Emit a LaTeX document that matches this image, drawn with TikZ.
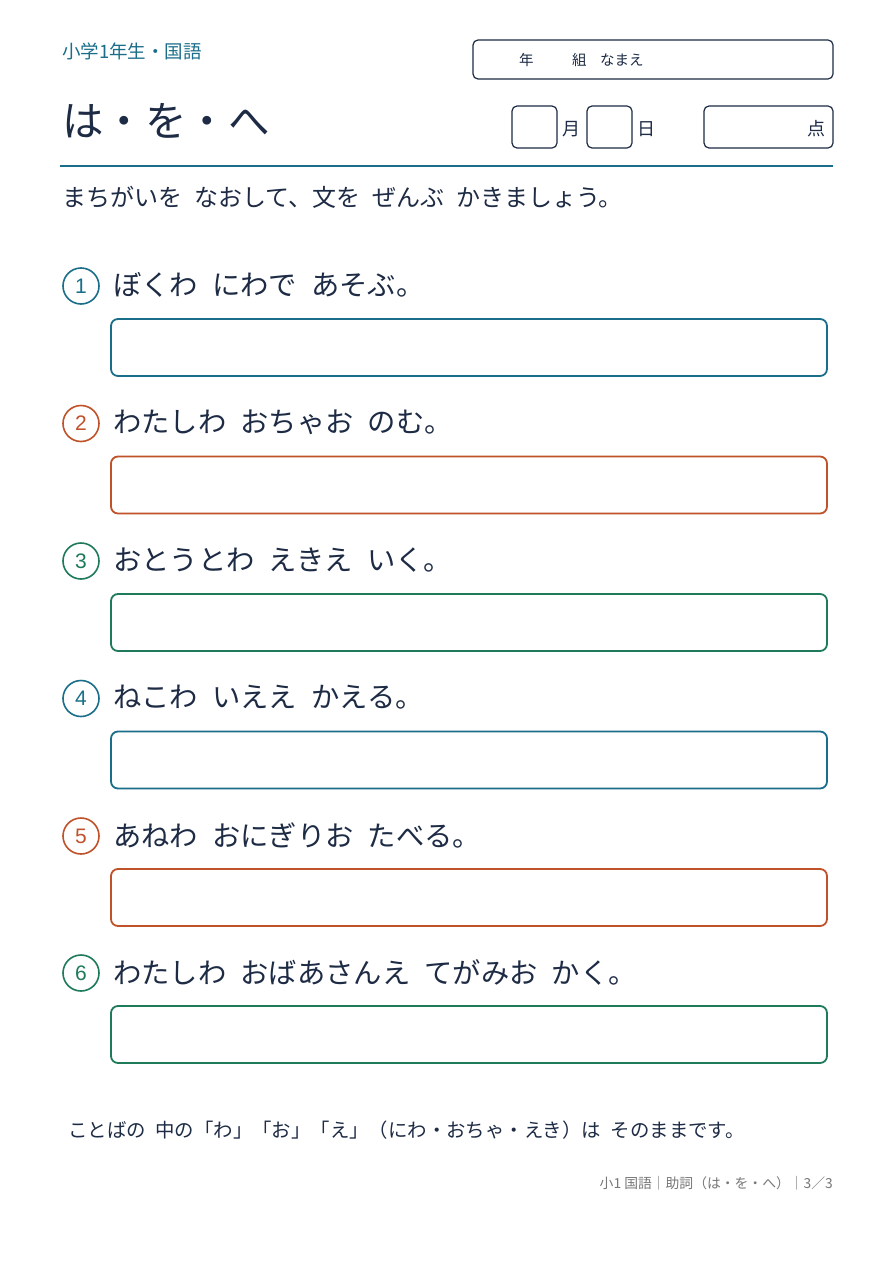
\documentclass[tikz,border=0pt]{standalone}
\usepackage{fontspec}
\setmainfont{Noto Sans CJK JP}
\newfontfamily\digf{Liberation Sans}
\newcommand{\gap}{\hspace{0.5em}}
\definecolor{ink}{HTML}{1D2B45}
\definecolor{cteal}{HTML}{1A6E8A}
\definecolor{corange}{HTML}{C0522A}
\definecolor{cgreen}{HTML}{1F7A5A}
\definecolor{cgray}{HTML}{777777}
\begin{document}
\begin{tikzpicture}[x=1pt,y=-1pt,
  t/.style={anchor=west,inner sep=0,text=ink},
  num/.style={circle,draw=#1,line width=1.6pt,minimum size=36pt,inner sep=0,text=#1,font=\digf\fontsize{21}{21}\selectfont},
  abox/.style={draw=#1,line width=1.8pt,rounded corners=7pt},
  hbox/.style={draw=ink,line width=1.2pt,rounded corners=5pt}]
\useasboundingbox[fill=white] (0,0) rectangle (893,1263);
\node[t,text=cteal,font=\fontsize{18.5}{18.5}\selectfont] (grade) at (62,51) {小学1年生・国語};
\draw[hbox] (473,40) rectangle (833,79);
\node[t,font=\fontsize{14.5}{14.5}\selectfont] (nen) at (519,60) {年};
\node[t,font=\fontsize{14.5}{14.5}\selectfont] (kumi) at (572,60) {組};
\node[t,font=\fontsize{14.5}{14.5}\selectfont] (namae) at (600,60) {なまえ};
\node[t,font=\fontsize{41.5}{41.5}\selectfont] (title) at (62,121) {は・を・へ};
\draw[hbox] (512,106) rectangle (557,148);
\node[t,font=\fontsize{18}{18}\selectfont] (tsuki) at (562,129) {月};
\draw[hbox] (587,106) rectangle (632,148);
\node[t,font=\fontsize{18}{18}\selectfont] (hi) at (637,129) {日};
\draw[hbox] (704,106) rectangle (833,148);
\node[t,font=\fontsize{18}{18}\selectfont] (ten) at (807,129) {点};
\draw[cteal,line width=1.8pt] (60,166) -- (833,166);
\node[t,font=\fontsize{24}{24}\selectfont] (inst) at (62,197) {まちがいを\gap なおして、文を\gap ぜんぶ\gap かきましょう。};
\foreach \i/\y/\c/\s in {1/0/cteal/{ぼくわ\gap にわで\gap あそぶ。},
  2/137.5/corange/{わたしわ\gap おちゃお\gap のむ。},
  3/275/cgreen/{おとうとわ\gap えきえ\gap いく。},
  4/412.5/cteal/{ねこわ\gap いええ\gap かえる。},
  5/550/corange/{あねわ\gap おにぎりお\gap たべる。},
  6/687/cgreen/{わたしわ\gap おばあさんえ\gap てがみお\gap かく。}}{
  \node[num=\c] (n\i) at (81,286+\y) {\i};
  \node[t,font=\fontsize{28.3}{28.3}\selectfont] (q\i) at (113,285+\y) {\s};
  \draw[abox=\c] (111,319+\y) rectangle (827,376+\y);
}
\node[t,font=\fontsize{19.4}{19.4}\selectfont] (note) at (68,1130) {ことばの\gap 中の「わ」「お」「え」（にわ・おちゃ・えき）は\gap そのままです。};
\node[anchor=east,inner sep=0,text=cgray,font=\fontsize{13.8}{13.8}\selectfont] (foot) at (833,1183) {小1 国語｜助詞（は・を・へ）｜3／3};
\end{tikzpicture}
\end{document}
